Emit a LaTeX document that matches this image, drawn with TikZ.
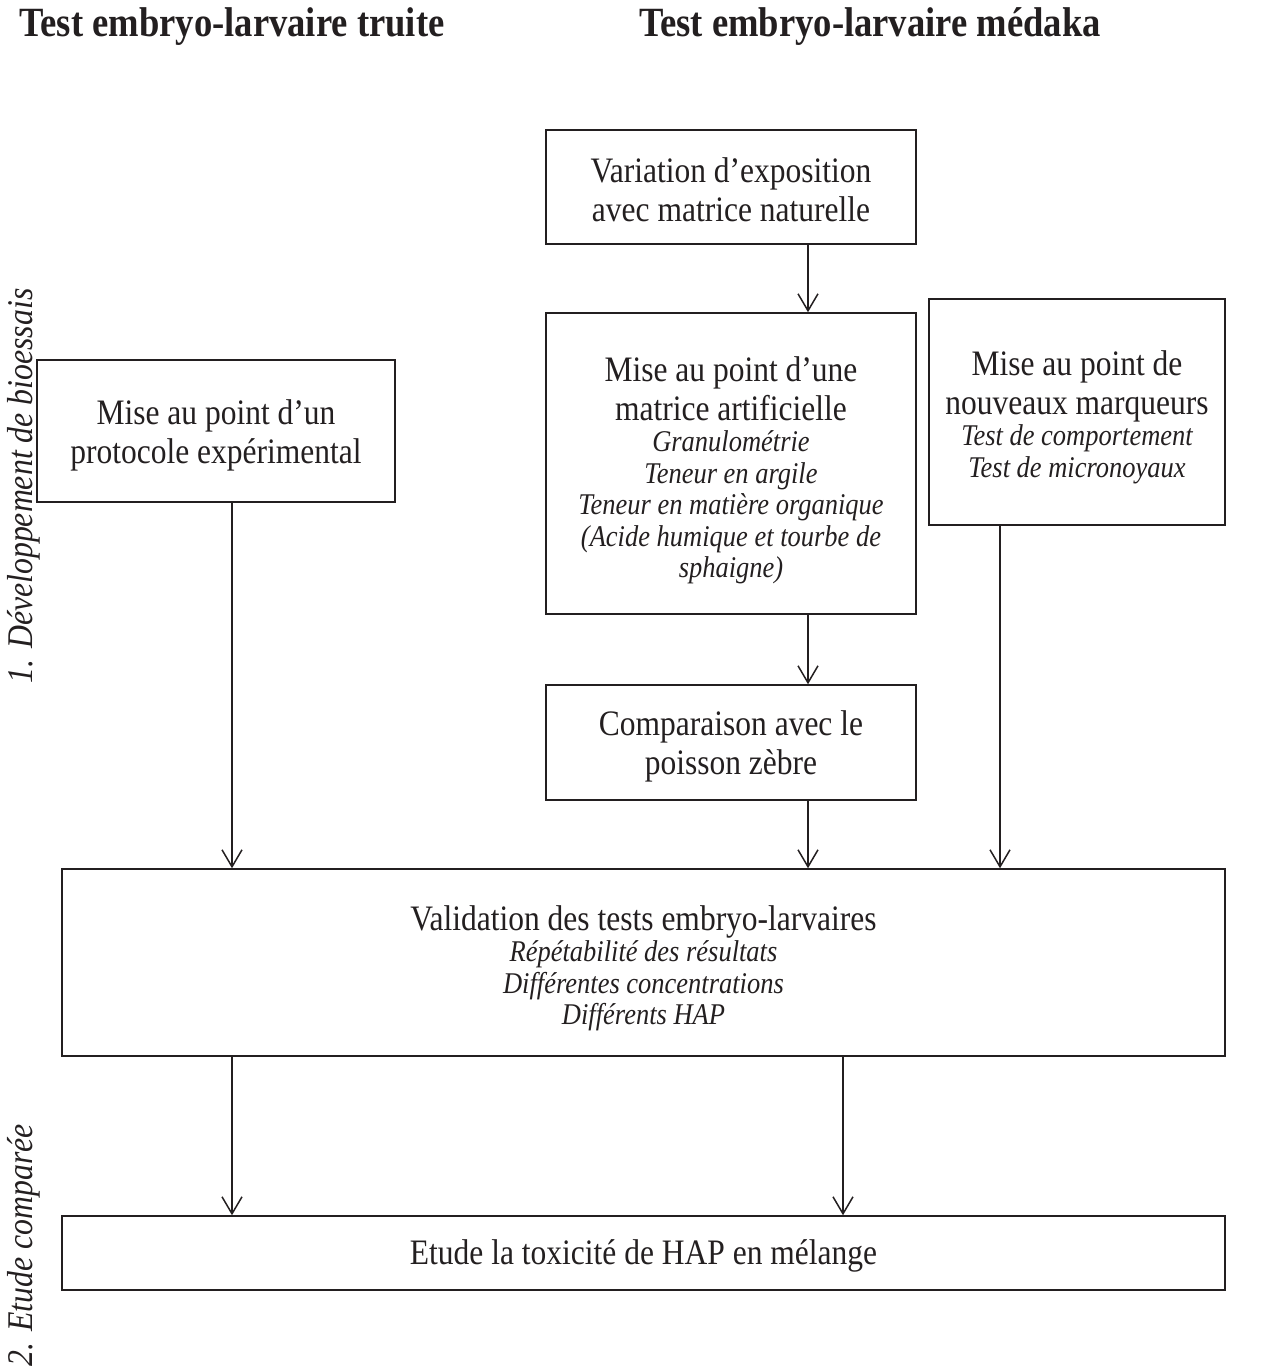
\documentclass[tikz,border=0pt]{standalone}
\usepackage{fontspec}
\setmainfont[FakeStretch=0.88]{Liberation Serif}
\usetikzlibrary{arrows.meta}
\definecolor{ink}{HTML}{231F20}
\newcommand{\bigtxt}{\fontsize{17.9}{19.5}\selectfont}
\newcommand{\smit}{\fontsize{15.05}{15.5}\selectfont\itshape}
\newcommand{\nl}{\\[-3.75pt]}
\begin{document}
\begin{tikzpicture}[x=0.5pt,y=-0.5pt,
  box/.style={draw=ink, line width=0.75pt, inner sep=0pt},
  txt/.style={inner sep=0pt, align=center, text=ink, font=\bigtxt},
  arr/.style={draw=ink, line width=0.75pt, -{Straight Barb[length=8.5pt,width=10pt,line width=0.75pt]}},
  ttl/.style={font=\fontsize{20.8}{24}\selectfont\bfseries, text=ink, inner sep=0pt},
  side/.style={font=\fontsize{18.07}{20}\selectfont\itshape, text=ink, inner sep=0pt, rotate=90}]
\useasboundingbox (0,0) rectangle (1261,1366);

\node[ttl] (t1) at (232,27) {Test embryo-larvaire truite};
\node[ttl] (t2) at (870,27) {Test embryo-larvaire médaka};

\node[side] (s1) at (24,486) {1. Développement de bioessais};
\node[side] (s2) at (24,1245) {2. Etude comparée};

\node[box, minimum width=185pt, minimum height=57pt] (b0) at (731,187) {};
\node[box, minimum width=185pt, minimum height=150.5pt] (b1) at (731,463.5) {};
\node[box, minimum width=148pt, minimum height=113pt] (b2) at (1077,412) {};
\node[box, minimum width=179pt, minimum height=71pt] (b3) at (216,431) {};
\node[box, minimum width=185pt, minimum height=57.5pt] (b4) at (731,742.5) {};
\node[box, minimum width=581.5pt, minimum height=93.5pt] (b5) at (643.5,962.5) {};
\node[box, minimum width=581.5pt, minimum height=37pt] (b6) at (643.5,1253) {};

\node[txt] (b0t) at ([yshift=-1.5pt]b0.center)
  {Variation d’exposition\\avec matrice naturelle};
\node[txt] (b1t) at ([yshift=-3.5pt]b1.center)
  {Mise au point d’une\\matrice artificielle\nl
   {\smit Granulométrie}\nl
   {\smit Teneur en argile}\nl
   {\smit Teneur en matière organique}\nl
   {\smit (Acide humique et tourbe de}\nl
   {\smit sphaigne)}};
\node[txt] (b2t) at ([yshift=-2.5pt]b2.center)
  {Mise au point de\\nouveaux marqueurs\nl
   {\smit Test de comportement}\nl
   {\smit Test de micronoyaux}};
\node[txt] (b3t) at ([yshift=-2pt]b3.center)
  {Mise au point d’un\\protocole expérimental};
\node[txt] (b4t) at ([yshift=-2pt]b4.center)
  {Comparaison avec le\\poisson zèbre};
\node[txt] (b5t) at ([yshift=-3pt]b5.center)
  {Validation des tests embryo-larvaires\nl
   {\smit Répétabilité des résultats}\nl
   {\smit Différentes concentrations}\nl
   {\smit Différents HAP}};
\node[txt] (b6t) at ([yshift=-1.5pt]b6.center)
  {Etude la toxicité de HAP en mélange};

\coordinate (xa) at (232,0);
\coordinate (xb) at (808,0);
\coordinate (xc) at (1000,0);
\coordinate (xd) at (843,0);

\draw[arr] (xb |- b0.south) -- (xb |- b1.north);
\draw[arr] (xb |- b1.south) -- (xb |- b4.north);
\draw[arr] (xa |- b3.south) -- (xa |- b5.north);
\draw[arr] (xb |- b4.south) -- (xb |- b5.north);
\draw[arr] (xc |- b2.south) -- (xc |- b5.north);
\draw[arr] (xa |- b5.south) -- (xa |- b6.north);
\draw[arr] (xd |- b5.south) -- (xd |- b6.north);
\end{tikzpicture}
\end{document}
